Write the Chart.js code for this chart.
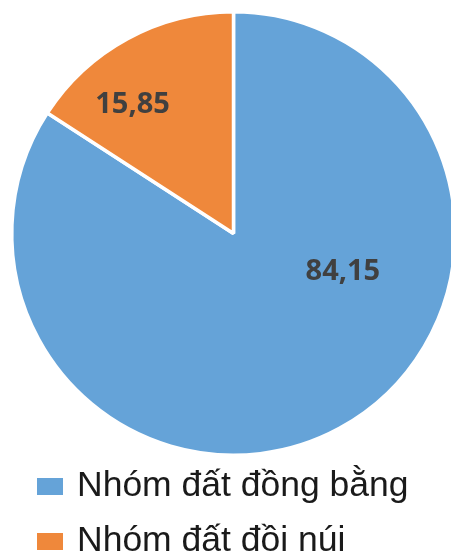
<!DOCTYPE html>
<html>
<head>
<meta charset="utf-8">
<script src="https://cdn.jsdelivr.net/npm/chart.js@4/dist/chart.umd.min.js"></script>
<style>
  html, body { margin: 0; padding: 0; background: #fff; }
  #wrap { position: relative; width: 451px; height: 554px; overflow: hidden; }
</style>
</head>
<body>
<div id="wrap"><canvas id="pie" width="470" height="554"></canvas></div>
<script>
const labels = ['Nhóm đất đồng bằng', 'Nhóm đất đồi núi'];
const values = [84.15, 15.85];
const valueLabels = ['84,15', '15,85'];
const colors = ['#65A3D8', '#EF883B'];

// where each value label sits inside its slice (fraction of arc angle / radius)
const labelAngleFrac = [0.358, 0.34];
const labelRadiusFrac = [0.52, 0.745];

const sliceLabels = {
  id: 'sliceLabels',
  afterDatasetsDraw(chart) {
    const ctx = chart.ctx;
    const meta = chart.getDatasetMeta(0);
    ctx.save();
    ctx.font = 'bold 29px "Open Sans"';
    ctx.fillStyle = '#404040';
    ctx.textAlign = 'center';
    ctx.textBaseline = 'alphabetic';
    meta.data.forEach((arc, i) => {
      const {x, y, startAngle, endAngle, outerRadius} = arc.getProps(['x', 'y', 'startAngle', 'endAngle', 'outerRadius'], true);
      const a = startAngle + (endAngle - startAngle) * labelAngleFrac[i];
      const r = outerRadius * labelRadiusFrac[i];
      ctx.fillText(valueLabels[i], x + Math.cos(a) * r, y + Math.sin(a) * r + 10.5);
    });
    ctx.restore();
  }
};

// vertical legend under the pie, left aligned
const stackedLegend = {
  id: 'stackedLegend',
  afterDraw(chart) {
    const ctx = chart.ctx;
    const ds = chart.data.datasets[0];
    ctx.save();
    ctx.font = '35.5px "Liberation Sans", Arial, sans-serif';
    ctx.textBaseline = 'alphabetic';
    chart.data.labels.forEach((lab, i) => {
      const base = 496 + i * 55;
      ctx.fillStyle = ds.backgroundColor[i];
      ctx.fillRect(37, base - 18, 26, 17);
      ctx.fillStyle = '#1a1a1a';
      ctx.fillText(lab, 77, base);
    });
    ctx.restore();
  }
};

new Chart(document.getElementById('pie'), {
  type: 'pie',
  data: {
    labels: labels,
    datasets: [{
      data: values,
      backgroundColor: colors,
      borderColor: '#ffffff',
      borderWidth: 3.5
    }]
  },
  options: {
    responsive: false,
    animation: false,
    layout: { padding: { left: 10, top: 10, right: 13, bottom: 97 } },
    plugins: {
      legend: { display: false },
      tooltip: { enabled: false }
    }
  },
  plugins: [sliceLabels, stackedLegend]
});
</script>
</body>
</html>
